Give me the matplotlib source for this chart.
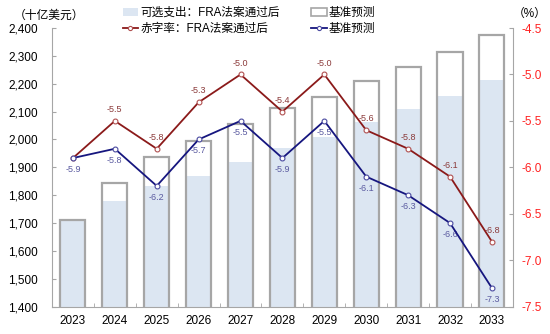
import numpy as np
import matplotlib
matplotlib.use("Agg")
from matplotlib import pyplot as plt
from matplotlib.patches import Patch
from matplotlib.lines import Line2D

plt.rcParams['font.family'] = ['Liberation Sans', 'Noto Sans CJK SC', 'DejaVu Sans']

years = ['2023', '2024', '2025', '2026', '2027', '2028', '2029', '2030', '2031', '2032', '2033']
spend_fra = [1710, 1779, 1833, 1869, 1920, 1968, 2010, 2064, 2108, 2156, 2213]
spend_base = [1710, 1845, 1938, 1994, 2055, 2112, 2153, 2211, 2261, 2313, 2375]
deficit_fra = [-5.9, -5.5, -5.8, -5.3, -5.0, -5.4, -5.0, -5.6, -5.8, -6.1, -6.8]
deficit_base = [-5.9, -5.8, -6.2, -5.7, -5.5, -5.9, -5.5, -6.1, -6.3, -6.6, -7.3]

fill_c = '#dce6f2'
edge_c = '#a6a6a6'
red_c = '#8b1a1a'
blue_c = '#16167f'
red_lbl = '#8b3a3a'
blue_lbl = '#5a5aa0'

fig = plt.figure(figsize=(5.5, 3.34), dpi=100)
ax = fig.add_axes([0.0945, 0.082, 0.838, 0.834])
x = np.arange(len(years))
w = 0.6

ax.bar(x, spend_fra, width=w, color=fill_c, zorder=2)
ax.bar(x, spend_base, width=w, facecolor='none', edgecolor=edge_c, linewidth=1.6, zorder=3)
ax.set_ylim(1400, 2400)
ax.set_xlim(-0.5, len(years) - 0.5)
ax.set_yticks(np.arange(1400, 2401, 100))
ax.set_yticklabels([f"{v:,}" for v in range(1400, 2401, 100)])
ax.set_xticks(x)
ax.set_xticklabels(years)
ax.set_xticks(np.arange(-0.5, len(years), 1), minor=True)
ax.tick_params(axis='x', which='major', length=0, labelsize=8.5, pad=6)
ax.tick_params(axis='x', which='minor', direction='in', length=3, color=edge_c)
ax.tick_params(axis='y', direction='in', length=3, color=edge_c, labelsize=8.5, pad=10)
for s in ['top', 'right']:
    ax.spines[s].set_visible(False)
for s in ['left', 'bottom']:
    ax.spines[s].set_color(edge_c)

ax2 = ax.twinx()
ax2.plot(x, deficit_fra, color=red_c, lw=1.3, marker='o', ms=3.5, mfc='white', mec='#b05050', mew=0.8, zorder=5)
ax2.plot(x, deficit_base, color=blue_c, lw=1.3, marker='o', ms=3.5, mfc='white', mec='#4a4aa0', mew=0.8, zorder=6)
ax2.set_ylim(-7.5, -4.5)
ax2.set_yticks(np.arange(-7.5, -4.4, 0.5))
ax2.set_yticklabels([f"{v:.1f}" for v in np.arange(-7.5, -4.4, 0.5)])
ax2.tick_params(axis='y', direction='in', length=3, color=edge_c, labelsize=8.5, labelcolor='#ff2020', pad=6)
for s in ['top', 'left', 'bottom']:
    ax2.spines[s].set_visible(False)
ax2.spines['right'].set_color(edge_c)

for i, v in enumerate(deficit_fra):
    if i == 0:
        continue
    ax2.annotate(f"{v:.1f}", (i, v), xytext=(0, 5), textcoords='offset points',
                 ha='center', va='bottom', fontsize=6.5, color=red_lbl)
for i, v in enumerate(deficit_base):
    ax2.annotate(f"{v:.1f}", (i, v), xytext=(0, -5), textcoords='offset points',
                 ha='center', va='top', fontsize=6.5, color=blue_lbl)

fig.text(0.025, 0.952, '（十亿美元）', fontsize=8.5, va='center')
fig.text(0.933, 0.958, '（%）', fontsize=8.5, va='center')

handles = [
    Patch(facecolor=fill_c, edgecolor='none'),
    Line2D([], [], color=red_c, lw=1.3, marker='o', ms=3, mfc='white', mec='#b05050', mew=0.8),
    Patch(facecolor='white', edgecolor=edge_c, linewidth=1.2),
    Line2D([], [], color=blue_c, lw=1.3, marker='o', ms=3, mfc='white', mec='#4a4aa0', mew=0.8),
]
labels = ['可选支出：FRA法案通过后', '赤字率：FRA法案通过后', '基准预测', '基准预测']
fig.legend(handles, labels, ncol=2, loc='upper center', bbox_to_anchor=(0.453, 1.01),
           frameon=False, fontsize=8.4, handlelength=1.3, handleheight=0.6, handletextpad=0.2,
           columnspacing=2.7, labelspacing=0.3)

fig.savefig('out.png', dpi=100)
